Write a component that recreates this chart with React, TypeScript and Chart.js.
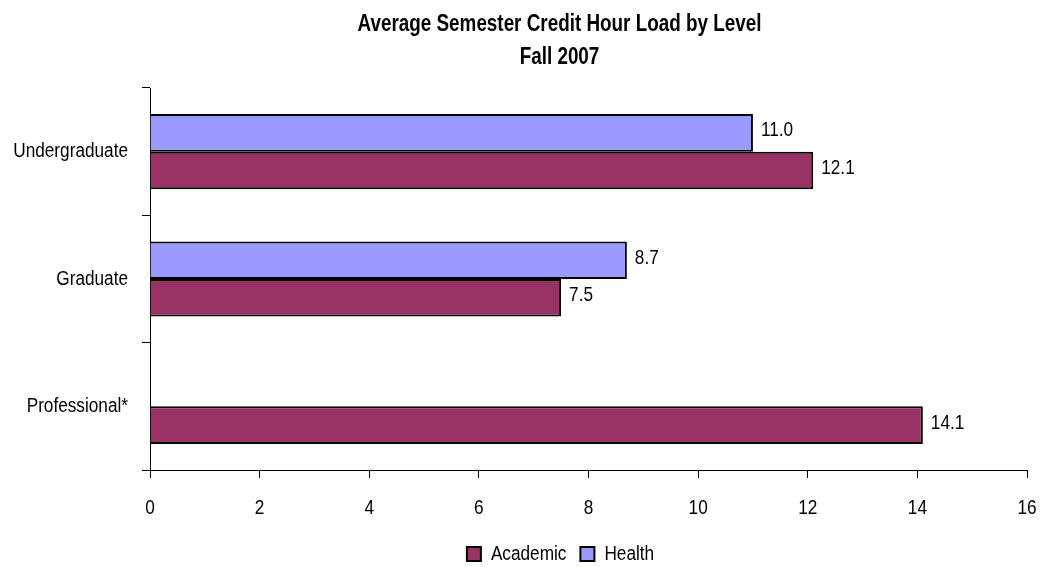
import React, { useEffect, useRef } from "react";
import { Chart, registerables } from "chart.js";

Chart.register(...registerables);

const titleLines = ["Average Semester Credit Hour Load by Level", "Fall 2007"];
const categories = ["Undergraduate", "Graduate", "Professional*"];
const academicValues: (number | null)[] = [12.1, 7.5, 14.1];
const healthValues: (number | null)[] = [11.0, 8.7, null];
const xTicks = [0, 2, 4, 6, 8, 10, 12, 14, 16];

const FONT = "'Liberation Sans', Arial, sans-serif";
const NARROW_REGULAR = 0.86;
const NARROW_BOLD = 0.82;

// emulate a narrow (Arial Narrow-like) face by condensing glyphs horizontally
function narrowContext(ctx: CanvasRenderingContext2D) {
  const origFill = ctx.fillText.bind(ctx);
  const origMeasure = ctx.measureText.bind(ctx);
  const factor = () => (/bold/.test(ctx.font) ? NARROW_BOLD : NARROW_REGULAR);
  (ctx as any).fillText = (text: string, x: number, y: number) => {
    const s = factor();
    ctx.save();
    ctx.translate(x, y);
    ctx.scale(s, 1);
    origFill(text, 0, 0);
    ctx.restore();
  };
  (ctx as any).measureText = (text: string) => {
    const m = origMeasure(text);
    const s = factor();
    return {
      width: m.width * s,
      actualBoundingBoxLeft: m.actualBoundingBoxLeft * s,
      actualBoundingBoxRight: m.actualBoundingBoxRight * s,
      actualBoundingBoxAscent: m.actualBoundingBoxAscent,
      actualBoundingBoxDescent: m.actualBoundingBoxDescent,
      fontBoundingBoxAscent: m.fontBoundingBoxAscent,
      fontBoundingBoxDescent: m.fontBoundingBoxDescent,
    };
  };
}

const valueLabels = {
  id: "valueLabels",
  afterDatasetsDraw(chart: any) {
    const ctx = chart.ctx;
    ctx.save();
    ctx.font = `20px ${FONT}`;
    ctx.fillStyle = "#000";
    ctx.textAlign = "left";
    ctx.textBaseline = "middle";
    chart.data.datasets.forEach((ds: any, i: number) => {
      const meta = chart.getDatasetMeta(i);
      meta.data.forEach((el: any, j: number) => {
        const v = ds.data[j];
        if (v === null || v === undefined) return;
        ctx.fillText(Number(v).toFixed(1), el.x + 8, el.y - 2);
      });
    });
    ctx.restore();
  },
};

// title and legend in the reference are centred a little right of the canvas centre
const shiftBlocks = {
  id: "shiftBlocks",
  afterLayout(chart: any) {
    const t = chart.titleBlock;
    if (t) {
      t.left += 46;
      t.right += 46;
    }
    const l = chart.legend;
    if (l) {
      l.left += 47;
      l.right += 47;
    }
  },
};

export default function App() {
  const ref = useRef<HTMLCanvasElement>(null);
  useEffect(() => {
    if (!ref.current) return;
    const c2d = ref.current.getContext("2d");
    if (c2d) narrowContext(c2d);
    const chart = new Chart(ref.current, {
      type: "bar",
      data: {
        labels: categories,
        datasets: [
          {
            label: "Health",
            data: healthValues,
            backgroundColor: "#9999FF",
            borderColor: "#000",
            borderWidth: 2,
          },
          {
            label: "Academic",
            data: academicValues,
            backgroundColor: "#993366",
            borderColor: "#000",
            borderWidth: 2,
          },
        ],
      },
      options: {
        indexAxis: "y",
        animation: false,
        responsive: true,
        maintainAspectRatio: false,
        datasets: { bar: { categoryPercentage: 0.59, barPercentage: 1 } },
        layout: { padding: { left: 0, right: 15, top: 0, bottom: -7 } },
        plugins: {
          title: {
            display: true,
            text: titleLines,
            color: "#000",
            font: { family: FONT, size: 23, weight: "bold", lineHeight: 33 / 23 },
            padding: { top: 8.5, bottom: 13.5 },
          },
          legend: {
            display: true,
            position: "bottom",
            reverse: true,
            labels: {
              color: "#000",
              boxWidth: 14,
              boxHeight: 14,
              padding: 14,
              font: { family: FONT, size: 20 },
            },
          },
          tooltip: { enabled: false },
        },
        scales: {
          x: {
            min: 0,
            max: 16,
            afterBuildTicks: (axis: any) => {
              axis.ticks = xTicks.map((v) => ({ value: v }));
            },
            afterFit: (axis: any) => {
              axis.height = 60;
              axis.paddingRight = 0;
            },
            border: { display: true, color: "#000", width: 1 },
            grid: { drawOnChartArea: false, drawTicks: true, tickLength: 8, color: "#000" },
            ticks: { color: "#000", padding: 18, font: { family: FONT, size: 20 } },
          },
          y: {
            afterFit: (axis: any) => {
              axis.width = 150;
            },
            border: { display: true, color: "#000", width: 1 },
            grid: { drawOnChartArea: false, drawTicks: true, tickLength: 8, color: "#000", offset: true },
            ticks: { color: "#000", padding: 14, font: { family: FONT, size: 20 } },
          },
        },
      },
      plugins: [valueLabels, shiftBlocks],
    } as any);
    return () => chart.destroy();
  }, []);
  return (
    <div style={{ position: "fixed", left: 0, top: 0, width: 1042, height: 567 }}>
      <canvas ref={ref} />
    </div>
  );
}
